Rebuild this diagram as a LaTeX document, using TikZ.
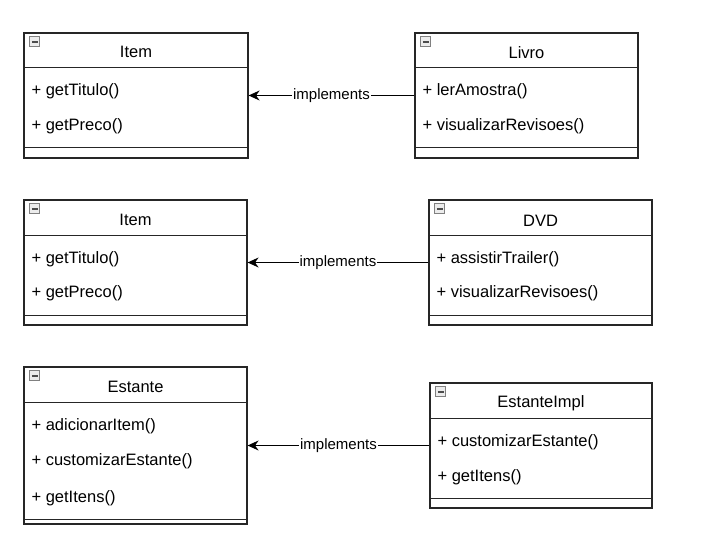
\documentclass[tikz,border=0pt]{standalone}
\usepackage{fontspec}
\setmainfont{Liberation Sans}
\usetikzlibrary{arrows.meta}
\usetikzlibrary{positioning}

\tikzset{
  classbox/.style={draw=black!85, line width=1.2pt, inner sep=0pt},
  classname/.style={font=\fontsize{16.5}{18}\selectfont},
  method/.style={anchor=west, inner sep=0pt, font=\fontsize{16.5}{18}\selectfont},
  minusicon/.style={draw=gray, fill=gray!15, line width=0.8pt, minimum size=10pt, inner sep=0pt,
    path picture={\draw[black!70, line width=1.5pt] ([xshift=2pt]path picture bounding box.west) -- ([xshift=-2pt]path picture bounding box.east);}},
  implements/.style={-{Stealth[length=11pt,width=10pt]}, line width=1.1pt},
  implabel/.style={fill=white, inner sep=1pt, font=\fontsize{15}{17}\selectfont},
}

\begin{document}
\begin{tikzpicture}[x=1pt,y=-1pt]
        \fill[white] (0,0) rectangle (706,556);
        \useasboundingbox (0,0) rectangle (706,556);

        % Item / Livro
        \node[classbox, minimum width=224pt, minimum height=125pt] (item) at (136,95.5) {};
        \draw[classbox] ([yshift=-35pt]item.north west) -- ([yshift=-35pt]item.north east);
        \draw[classbox] ([yshift=11pt]item.south west) -- ([yshift=11pt]item.south east);
        \node[minusicon, anchor=north west] (itemmin) at ([xshift=6pt,yshift=-4pt]item.north west) {};
        \node[classname] (itemname) at ([yshift=-20pt]item.north) {Item};
        \node[method] (itemm1) at ([xshift=8pt,yshift=-59pt]item.north west) {+ getTitulo()};
        \node[method] (itemm2) at ([xshift=8pt,yshift=-94pt]item.north west) {+ getPreco()};

        \node[classbox, minimum width=223pt, minimum height=125pt] (livro) at (526.5,95.5) {};
        \draw[classbox] ([yshift=-35pt]livro.north west) -- ([yshift=-35pt]livro.north east);
        \draw[classbox] ([yshift=11pt]livro.south west) -- ([yshift=11pt]livro.south east);
        \node[minusicon, anchor=north west] (livromin) at ([xshift=6pt,yshift=-4pt]livro.north west) {};
        \node[classname] (livroname) at ([yshift=-20pt]livro.north) {Livro};
        \node[method] (livrom1) at ([xshift=8pt,yshift=-59pt]livro.north west) {+ lerAmostra()};
        \node[method] (livrom2) at ([xshift=8pt,yshift=-94pt]livro.north west) {+ visualizarRevisoes()};

        \draw[implements] (livro.west) -- (item.east) node[implabel, midway] (impl1) {implements};

        % Item / DVD
        \node[classbox, minimum width=223pt, minimum height=125pt] (itemb) at (135.5,262.5) {};
        \draw[classbox] ([yshift=-36pt]itemb.north west) -- ([yshift=-36pt]itemb.north east);
        \draw[classbox] ([yshift=10pt]itemb.south west) -- ([yshift=10pt]itemb.south east);
        \node[minusicon, anchor=north west] (itembmin) at ([xshift=6pt,yshift=-4pt]itemb.north west) {};
        \node[classname] (itembname) at ([yshift=-21pt]itemb.north) {Item};
        \node[method] (itembm1) at ([xshift=8pt,yshift=-60pt]itemb.north west) {+ getTitulo()};
        \node[method] (itembm2) at ([xshift=8pt,yshift=-94pt]itemb.north west) {+ getPreco()};

        \node[classbox, minimum width=223pt, minimum height=125pt] (dvd) at (540.5,262.5) {};
        \draw[classbox] ([yshift=-36pt]dvd.north west) -- ([yshift=-36pt]dvd.north east);
        \draw[classbox] ([yshift=10pt]dvd.south west) -- ([yshift=10pt]dvd.south east);
        \node[minusicon, anchor=north west] (dvdmin) at ([xshift=6pt,yshift=-4pt]dvd.north west) {};
        \node[classname] (dvdname) at ([yshift=-21pt]dvd.north) {DVD};
        \node[method] (dvdm1) at ([xshift=8pt,yshift=-60pt]dvd.north west) {+ assistirTrailer()};
        \node[method] (dvdm2) at ([xshift=8pt,yshift=-94pt]dvd.north west) {+ visualizarRevisoes()};

        \draw[implements] (dvd.west) -- (itemb.east) node[implabel, midway] (impl2) {implements};

        % Estante / EstanteImpl
        \node[classbox, minimum width=223pt, minimum height=157pt] (estante) at (135.5,445.5) {};
        \draw[classbox] ([yshift=-36pt]estante.north west) -- ([yshift=-36pt]estante.north east);
        \draw[classbox] ([yshift=5pt]estante.south west) -- ([yshift=5pt]estante.south east);
        \node[minusicon, anchor=north west] (estantemin) at ([xshift=6pt,yshift=-4pt]estante.north west) {};
        \node[classname] (estantename) at ([yshift=-21pt]estante.north) {Estante};
        \node[method] (estantem1) at ([xshift=8pt,yshift=-60pt]estante.north west) {+ adicionarItem()};
        \node[method] (estantem2) at ([xshift=8pt,yshift=-95pt]estante.north west) {+ customizarEstante()};
        \node[method] (estantem3) at ([xshift=8pt,yshift=-132pt]estante.north west) {+ getItens()};

        \node[classbox, minimum width=222pt, minimum height=125pt] (estimpl) at (541,445.5) {};
        \draw[classbox] ([yshift=-36pt]estimpl.north west) -- ([yshift=-36pt]estimpl.north east);
        \draw[classbox] ([yshift=10pt]estimpl.south west) -- ([yshift=10pt]estimpl.south east);
        \node[minusicon, anchor=north west] (estimplmin) at ([xshift=6pt,yshift=-4pt]estimpl.north west) {};
        \node[classname] (estimplname) at ([yshift=-21pt]estimpl.north) {EstanteImpl};
        \node[method] (estimplm1) at ([xshift=8pt,yshift=-60pt]estimpl.north west) {+ customizarEstante()};
        \node[method] (estimplm2) at ([xshift=8pt,yshift=-95pt]estimpl.north west) {+ getItens()};

        \draw[implements] (estimpl.west) -- (estante.east) node[implabel, midway] (impl3) {implements};
\end{tikzpicture}
\end{document}
